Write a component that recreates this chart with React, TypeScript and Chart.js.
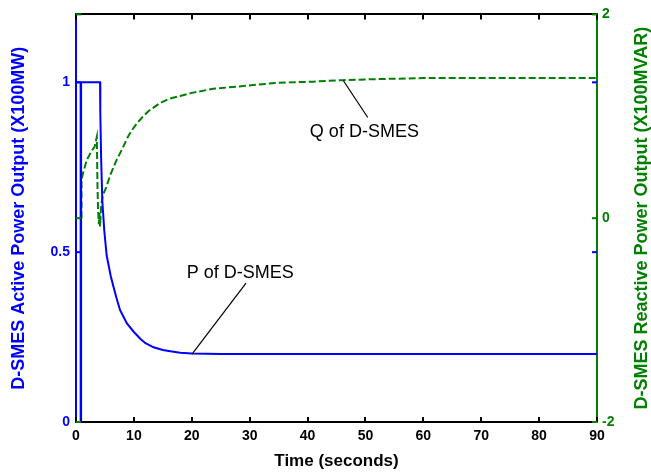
import React, { useEffect, useRef } from "react";
import { Chart, registerables } from "chart.js";

Chart.register(...registerables);

// ---- data ----
const pTime = [0, 0.8, 0.8, 0.88, 0.88, 4.15, 4.2, 4.35, 4.55, 4.9, 5.3, 6.0, 6.45, 7.0, 7.6, 8.2, 8.8, 10, 11.1, 12, 13.4, 15, 16.3, 18, 20, 25, 30, 40, 50, 60, 70, 80, 90];
const pValue = [1, 1, 0, 0, 1, 1, 0.91, 0.77, 0.65, 0.56, 0.49, 0.43, 0.4, 0.365, 0.33, 0.31, 0.29, 0.265, 0.245, 0.232, 0.22, 0.212, 0.208, 0.204, 0.202, 0.2, 0.2, 0.2, 0.2, 0.2, 0.2, 0.2, 0.2];

const qTime = [0.95, 0.95, 1.26, 1.85, 2.7, 3.2, 3.6, 3.7, 3.8, 3.95, 4.05, 4.15, 4.35, 4.6, 5.2, 5.9, 7.0, 8.0, 8.8, 9.5, 10.5, 11.6, 12.5, 14.5, 16, 18, 20, 23.7, 29.5, 35, 41, 46, 52, 60, 70, 80, 90];
const qValue = [0, 0.38, 0.45, 0.57, 0.66, 0.7, 0.8, 0.35, 0.1, -0.06, 0.05, -0.08, 0.12, 0.22, 0.3, 0.42, 0.57, 0.68, 0.78, 0.85, 0.93, 1.0, 1.05, 1.13, 1.17, 1.2, 1.23, 1.27, 1.3, 1.33, 1.34, 1.355, 1.365, 1.375, 1.375, 1.375, 1.375];

const xTicks = [0, 10, 20, 30, 40, 50, 60, 70, 80, 90];
const leftTicks = [0, 0.5, 1];
const rightTicks = [-2, 0, 2];

const xTitle = "Time (seconds)";
const leftTitle = "D-SMES Active Power Output (X100MW)";
const rightTitle = "D-SMES Reactive Power Output (X100MVAR)";

// annotation labels, in data coordinates
const pLabel = { text: "P of D-SMES", x: 19.12, y: 0.44, fromX: 20.04, fromY: 0.2, toX: 29.37, toY: 0.409 };
const qLabel = { text: "Q of D-SMES", x: 40.4, y: 0.847, fromX: 46.17, fromY: 1.351, toX: 50.4, toY: 0.988 };

const BLUE = "#0000ff";
const GREEN = "#008000";
const FONT = "'Liberation Sans', Arial, sans-serif";

const extrasPlugin = {
  id: "extras",
  afterDatasetsDraw(chart: any) {
    const { ctx, chartArea: a, scales } = chart;
    const L = 5;
    const seg = (x1: number, y1: number, x2: number, y2: number) => {
      ctx.beginPath();
      ctx.moveTo(x1, y1);
      ctx.lineTo(x2, y2);
      ctx.stroke();
    };
    ctx.save();
    ctx.lineWidth = 2;
    ctx.strokeStyle = "#000";
    for (const t of xTicks) {
      const px = Math.round(scales.x.getPixelForValue(t));
      seg(px, a.bottom, px, a.bottom - L);
      seg(px, a.top, px, a.top + L);
    }
    ctx.strokeStyle = BLUE;
    for (const t of leftTicks) {
      const py = scales.y.getPixelForValue(t);
      seg(a.left, py, a.left + L, py);
      seg(a.right, py, a.right - L, py);
    }
    ctx.strokeStyle = GREEN;
    for (const t of rightTicks) {
      const py = scales.y1.getPixelForValue(t);
      seg(a.left, py, a.left + L, py);
      seg(a.right, py, a.right - L, py);
    }

    // annotations
    ctx.lineWidth = 1.2;
    ctx.strokeStyle = "#000";
    ctx.fillStyle = "#000";
    ctx.font = `18px ${FONT}`;
    ctx.textAlign = "left";
    ctx.textBaseline = "middle";
    const xs = scales.x;
    const draw = (lab: any, ys: any) => {
      seg(xs.getPixelForValue(lab.fromX), ys.getPixelForValue(lab.fromY), xs.getPixelForValue(lab.toX), ys.getPixelForValue(lab.toY));
      ctx.fillText(lab.text, xs.getPixelForValue(lab.x), ys.getPixelForValue(lab.y));
    };
    draw(pLabel, scales.y);
    draw(qLabel, scales.y1);

    // right title, reading bottom to top
    ctx.save();
    ctx.translate(642, (a.top + a.bottom) / 2);
    ctx.rotate(-Math.PI / 2);
    ctx.textAlign = "center";
    ctx.fillStyle = GREEN;
    ctx.font = `bold 18px ${FONT}`;
    ctx.fillText(rightTitle, 0, 0);
    ctx.restore();

    ctx.restore();
  },
};

export default function App() {
  const ref = useRef<HTMLCanvasElement | null>(null);
  useEffect(() => {
    if (!ref.current) return;
    const tickFont = { family: FONT, size: 14, weight: "bold" as const };
    const fmt = (v: any) => String(v);
    const chart = new Chart(ref.current, {
      type: "line",
      data: {
        datasets: [
          {
            label: "P",
            data: pTime.map((t, i) => ({ x: t, y: pValue[i] })),
            borderColor: BLUE,
            borderWidth: 2,
            pointRadius: 0,
            fill: false,
            tension: 0,
            yAxisID: "y",
            xAxisID: "x",
          },
          {
            label: "Q",
            data: qTime.map((t, i) => ({ x: t, y: qValue[i] })),
            borderColor: GREEN,
            borderWidth: 2,
            borderDash: [7, 3],
            pointRadius: 0,
            fill: false,
            tension: 0,
            yAxisID: "y1",
            xAxisID: "x",
          },
        ],
      },
      options: {
        responsive: false,
        animation: false,
        layout: { padding: 0 },
        plugins: { legend: { display: false }, tooltip: { enabled: false } },
        scales: {
          x: {
            type: "linear",
            position: "bottom",
            min: 0,
            max: 90,
            afterBuildTicks: (s: any) => {
              s.ticks = xTicks.map((v) => ({ value: v }));
            },
            ticks: { color: "#000", font: tickFont, padding: 6, maxRotation: 0, autoSkip: false, callback: fmt },
            grid: { display: false, drawTicks: false },
            border: { display: true, color: "#000", width: 2 },
            title: { display: true, text: xTitle, color: "#000", font: { family: FONT, size: 17, weight: "bold" }, padding: { top: 0, bottom: 4 } },
            afterFit: (s: any) => {
              s.height = 54;
            },
          },
          xTop: {
            type: "linear",
            position: "top",
            min: 0,
            max: 90,
            ticks: { display: false },
            grid: { display: false, drawTicks: false },
            border: { display: true, color: "#000", width: 2 },
            afterFit: (s: any) => {
              s.height = 11;
            },
          },
          y: {
            type: "linear",
            position: "left",
            min: 0,
            max: 1.2,
            afterBuildTicks: (s: any) => {
              s.ticks = leftTicks.map((v) => ({ value: v }));
            },
            ticks: { color: BLUE, font: tickFont, padding: 6, callback: fmt },
            grid: { display: false, drawTicks: false },
            border: { display: true, color: BLUE, width: 2 },
            title: { display: true, text: leftTitle, color: BLUE, font: { family: FONT, size: 18, weight: "bold" }, padding: { top: 8, bottom: 0 } },
            afterFit: (s: any) => {
              s.width = 76;
            },
          },
          y1: {
            type: "linear",
            position: "right",
            min: -2,
            max: 2,
            afterBuildTicks: (s: any) => {
              s.ticks = rightTicks.map((v) => ({ value: v }));
            },
            ticks: { color: GREEN, font: tickFont, padding: 5, callback: fmt },
            grid: { display: false, drawTicks: false },
            border: { display: true, color: GREEN, width: 2 },
            afterFit: (s: any) => {
              s.width = 54;
            },
          },
        },
      },
      plugins: [extrasPlugin],
    });
    return () => chart.destroy();
  }, []);
  return (
    <div style={{ position: "absolute", left: 0, top: 0, width: 651, height: 476, background: "#fff" }}>
      <canvas ref={ref} width={651} height={476} style={{ display: "block" }} />
    </div>
  );
}
